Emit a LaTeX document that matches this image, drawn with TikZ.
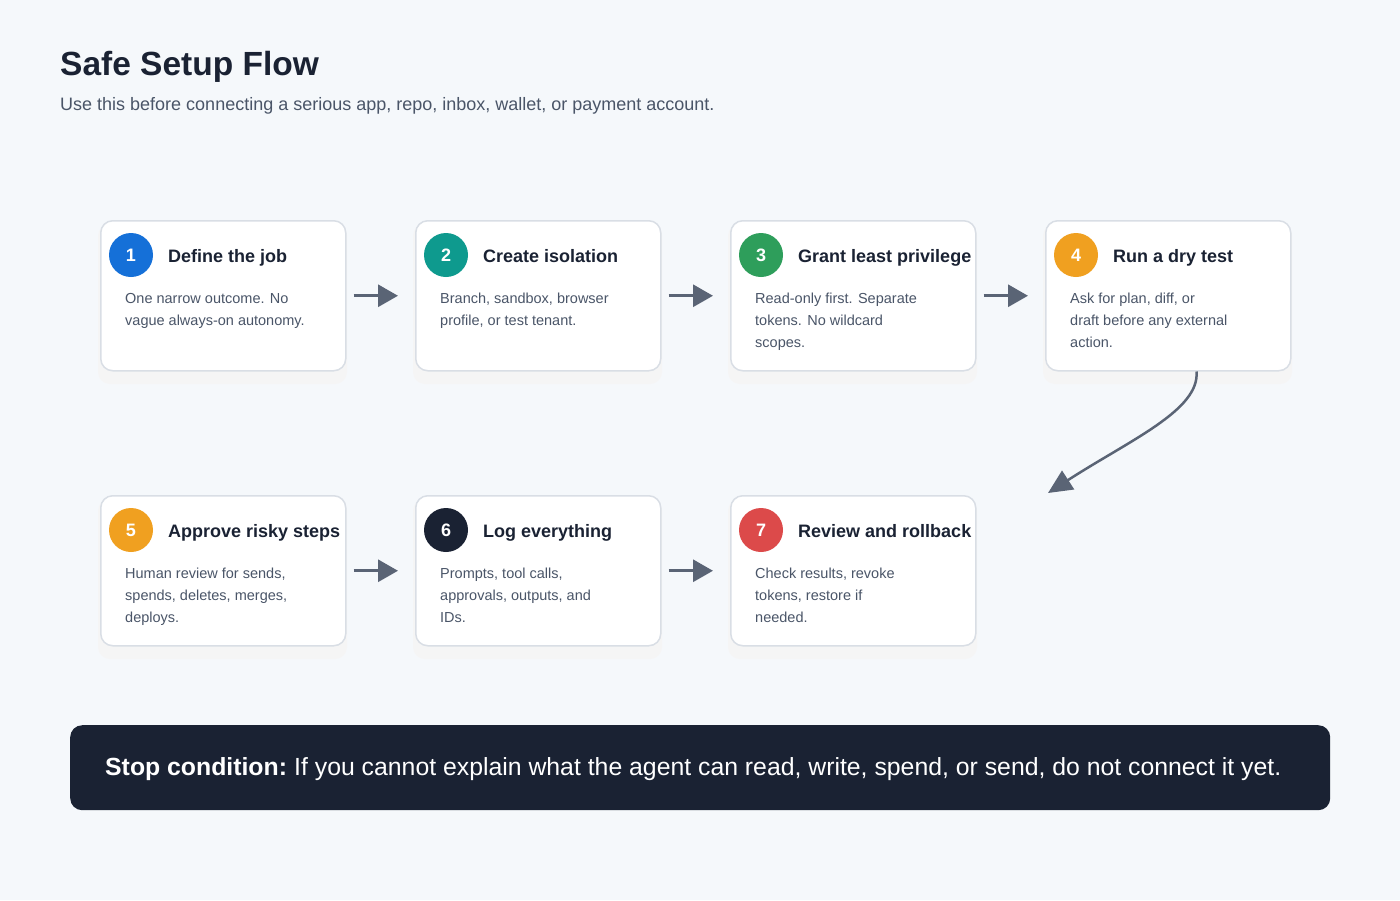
\documentclass[tikz,border=0pt]{standalone}
\usepackage{fontspec}
\setmainfont{Liberation Sans}
\usetikzlibrary{arrows.meta}
\definecolor{bg}{HTML}{F5F8FB}
\definecolor{ink}{HTML}{1A2233}
\definecolor{sub}{HTML}{4A5568}
\definecolor{edge}{HTML}{D9DEE5}
\definecolor{arr}{HTML}{5A6475}
\definecolor{cA}{HTML}{1570D8}
\definecolor{cB}{HTML}{0E9A8E}
\definecolor{cC}{HTML}{2E9E5B}
\definecolor{cD}{HTML}{F0A020}
\definecolor{cE}{HTML}{DC4A4A}
\begin{document}
\begin{tikzpicture}[x=1pt,y=-1pt,
 card/.style={draw=edge,line width=1.5pt,fill=white,rounded corners=12pt,minimum width=245pt,minimum height=150pt,anchor=north west,inner sep=0},
 num/.style={circle,fill=#1,minimum size=44pt,inner sep=0,text=white,font=\fontsize{18}{18}\selectfont\bfseries},
 ttl/.style={anchor=base west,text=ink,font=\fontsize{18}{18}\selectfont\bfseries,inner sep=0},
 body/.style={anchor=north west,text=sub,align=left,font=\fontsize{14.5}{22}\selectfont,inner sep=0},
 flow/.style={draw=arr,line width=3pt,-{Triangle[length=20pt,width=22pt]}}]
\fill[bg] (0,0) rectangle (1400,900);
\useasboundingbox (0,0) rectangle (1400,900);
\node[anchor=west,inner sep=0,text=ink,font=\fontsize{33.5}{33.5}\selectfont\bfseries] (title) at (60,67) {Safe Setup Flow};
\node[anchor=west,inner sep=0,text=sub,font=\fontsize{18}{18}\selectfont] (subt) at (60,106) {Use this before connecting a serious app, repo, inbox, wallet, or payment account.};
\newcommand\mycard[7]{%
 \fill[black!4,rounded corners=12pt] (#1-2,#2+4) rectangle ++(249,160);
 \node[card] (k#3) at (#1,#2) {};
 \node[num=#4] (n#3) at (#1+31,#2+35) {#3};
 \node[ttl] (t#3) at (#1+68,#2+42) {#5};
 \node[body] (b#3) at (#1+25,#2+#7) {#6};}
\mycard{100}{220}{1}{cA}{Define the job}{One narrow outcome. No\\vague always-on autonomy.}{73}
\mycard{415}{220}{2}{cB}{Create isolation}{Branch, sandbox, browser\\profile, or test tenant.}{73}
\mycard{730}{220}{3}{cC}{Grant least privilege}{Read-only first. Separate\\tokens. No wildcard\\scopes.}{73}
\mycard{1045}{220}{4}{cD}{Run a dry test}{Ask for plan, diff, or\\draft before any external\\action.}{73}
\mycard{100}{495}{5}{cD}{Approve risky steps}{Human review for sends,\\spends, deletes, merges,\\deploys.}{73}
\mycard{415}{495}{6}{ink}{Log everything}{Prompts, tool calls,\\approvals, outputs, and\\IDs.}{73}
\mycard{730}{495}{7}{cE}{Review and rollback}{Check results, revoke\\tokens, restore if\\needed.}{73}
\draw[flow] ([xshift=7pt]k1.east) -- ([xshift=-17pt]k2.west);
\draw[flow] ([xshift=7pt]k2.east) -- ([xshift=-17pt]k3.west);
\draw[flow] ([xshift=7pt]k3.east) -- ([xshift=-17pt]k4.west);
\draw[flow] ([xshift=7pt]k5.east) -- ([xshift=-17pt]k6.west);
\draw[flow] ([xshift=7pt]k6.east) -- ([xshift=-17pt]k7.west);
\coordinate (end) at (1048,493);
\draw[draw=arr,line width=2.5pt,-{Triangle[length=24pt,width=22pt]}] ([xshift=-95pt]k4.south east) .. controls (1200,410) and (1130,440) .. (end);
\node[fill=ink,rounded corners=12pt,minimum width=1260pt,minimum height=85pt,anchor=north west,inner sep=0] (bar) at (70,725) {};
\node[anchor=west,inner sep=0,text=white,font=\fontsize{24.8}{25}\selectfont] (stop) at (105,769) {\textbf{Stop condition:}\hspace{-2pt} If you cannot explain what the agent can read, write, spend, or send, do not connect it yet.};
\end{tikzpicture}
\end{document}
